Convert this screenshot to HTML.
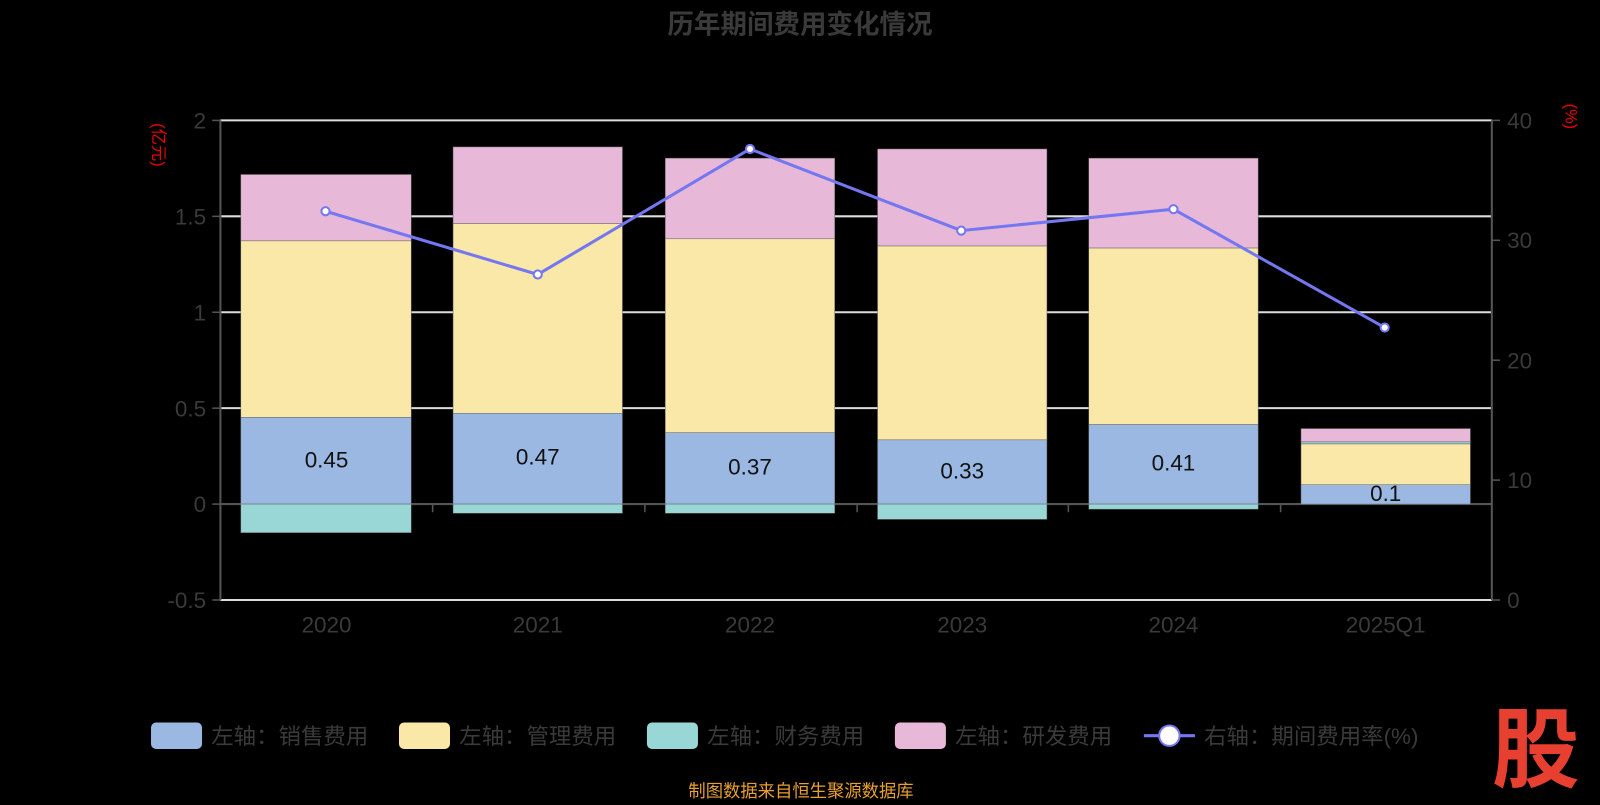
<!DOCTYPE html>
<html><head><meta charset="utf-8"><style>
body{margin:0;background:#000;}
text{font-family:"Liberation Sans","Noto Sans CJK SC",sans-serif;}
</style></head><body>
<svg width="1600" height="800" xmlns="http://www.w3.org/2000/svg">
<rect width="1600" height="800" fill="#000"/>
<g transform="scale(1.0204)">
<text x="784" y="33" text-anchor="middle" font-size="26" font-weight="bold" fill="#3a3a3a">历年期间费用变化情况</text>
<g stroke="#ddd" stroke-width="2">
<line x1="216" y1="118" x2="1462" y2="118"/><line x1="216" y1="212" x2="1462" y2="212"/>
<line x1="216" y1="306" x2="1462" y2="306"/><line x1="216" y1="400" x2="1462" y2="400"/>
<line x1="216" y1="588" x2="1462" y2="588"/>
</g>
<g stroke="#555" stroke-width="2">
<line x1="216" y1="118" x2="216" y2="588"/><line x1="1462" y1="118" x2="1462" y2="588"/>
<line x1="216" y1="494" x2="1462" y2="494"/>
</g>
<g stroke="#555" stroke-width="1.5">
<line x1="208" y1="118" x2="216" y2="118"/><line x1="208" y1="212" x2="216" y2="212"/><line x1="208" y1="306" x2="216" y2="306"/><line x1="208" y1="400" x2="216" y2="400"/><line x1="208" y1="494" x2="216" y2="494"/><line x1="208" y1="588" x2="216" y2="588"/>
<line x1="1462" y1="118" x2="1470" y2="118"/><line x1="1462" y1="235.5" x2="1470" y2="235.5"/><line x1="1462" y1="353" x2="1470" y2="353"/><line x1="1462" y1="470.5" x2="1470" y2="470.5"/><line x1="1462" y1="588" x2="1470" y2="588"/>
<line x1="424" y1="494" x2="424" y2="502"/><line x1="632" y1="494" x2="632" y2="502"/><line x1="840" y1="494" x2="840" y2="502"/><line x1="1047" y1="494" x2="1047" y2="502"/><line x1="1255" y1="494" x2="1255" y2="502"/>
</g>
<g font-size="22" fill="#3a3a3a" text-anchor="end">
<text x="202" y="126">2</text><text x="202" y="220">1.5</text><text x="202" y="314">1</text><text x="202" y="408">0.5</text><text x="202" y="502">0</text><text x="202" y="596">-0.5</text>
</g>
<g font-size="22" fill="#3a3a3a">
<text x="1477" y="126">40</text><text x="1477" y="243">30</text><text x="1477" y="361">20</text><text x="1477" y="478">10</text><text x="1477" y="596">0</text>
</g>
<g font-size="22" fill="#3a3a3a" text-anchor="middle">
<text x="320" y="620">2020</text><text x="527" y="620">2021</text><text x="735" y="620">2022</text><text x="943" y="620">2023</text><text x="1150" y="620">2024</text><text x="1358" y="620">2025Q1</text>
</g>
<text transform="translate(150,142) rotate(90)" text-anchor="middle" font-size="16" fill="#e00">(亿元)</text>
<text transform="translate(1534,114) rotate(90)" text-anchor="middle" font-size="16" fill="#e00">(%)</text>
<g stroke="#666" stroke-width="0.5">
<rect x="236" y="409" width="167" height="85" fill="#9bb8e3"/><rect x="236" y="236" width="167" height="173" fill="#f9e8a8"/><rect x="236" y="494" width="167" height="28" fill="#99d6d6"/><rect x="236" y="171" width="167" height="65" fill="#e8b8d9"/>
<rect x="444" y="405" width="166" height="89" fill="#9bb8e3"/><rect x="444" y="219" width="166" height="186" fill="#f9e8a8"/><rect x="444" y="494" width="166" height="9" fill="#99d6d6"/><rect x="444" y="144" width="166" height="75" fill="#e8b8d9"/>
<rect x="652" y="424" width="166" height="70" fill="#9bb8e3"/><rect x="652" y="234" width="166" height="190" fill="#f9e8a8"/><rect x="652" y="494" width="166" height="9" fill="#99d6d6"/><rect x="652" y="155" width="166" height="79" fill="#e8b8d9"/>
<rect x="860" y="431" width="166" height="63" fill="#9bb8e3"/><rect x="860" y="241" width="166" height="190" fill="#f9e8a8"/><rect x="860" y="494" width="166" height="15" fill="#99d6d6"/><rect x="860" y="146" width="166" height="95" fill="#e8b8d9"/>
<rect x="1067" y="416" width="166" height="78" fill="#9bb8e3"/><rect x="1067" y="243" width="166" height="173" fill="#f9e8a8"/><rect x="1067" y="494" width="166" height="5" fill="#99d6d6"/><rect x="1067" y="155" width="166" height="88" fill="#e8b8d9"/>
<rect x="1275" y="475" width="166" height="19" fill="#9bb8e3"/><rect x="1275" y="435" width="166" height="40" fill="#f9e8a8"/><rect x="1275" y="433" width="166" height="2" fill="#99d6d6"/><rect x="1275" y="420" width="166" height="13" fill="#e8b8d9"/>
</g>
<g font-size="22" fill="#111" text-anchor="middle">
<text x="320" y="458">0.45</text><text x="527" y="455">0.47</text><text x="735" y="465">0.37</text><text x="943" y="469">0.33</text><text x="1150" y="461">0.41</text><text x="1358" y="491">0.1</text>
</g>
<polyline points="319,207 527,269 735,146 942,226 1150,205 1357,321" fill="none" stroke="#7477f0" stroke-width="3"/>
<g fill="#fff" stroke="#7477f0" stroke-width="2">
<circle cx="319" cy="207" r="4"/><circle cx="527" cy="269" r="4"/><circle cx="735" cy="146" r="4"/><circle cx="942" cy="226" r="4"/><circle cx="1150" cy="205" r="4"/><circle cx="1357" cy="321" r="4"/>
</g>
<g font-size="22" fill="#3a3a3a">
<rect x="148" y="708" width="50" height="26" rx="5" fill="#9bb8e3"/><text x="207" y="729">左轴：销售费用</text>
<rect x="391" y="708" width="50" height="26" rx="5" fill="#f9e8a8"/><text x="450" y="729">左轴：管理费用</text>
<rect x="634" y="708" width="50" height="26" rx="5" fill="#99d6d6"/><text x="693" y="729">左轴：财务费用</text>
<rect x="877" y="708" width="50" height="26" rx="5" fill="#e8b8d9"/><text x="936" y="729">左轴：研发费用</text>
<line x1="1121" y1="721" x2="1171" y2="721" stroke="#7477f0" stroke-width="3"/><circle cx="1146" cy="721" r="10" fill="#fff" stroke="#7477f0" stroke-width="2"/>
<text x="1180" y="729">右轴：期间费用率(%)</text>
</g>
<text x="785" y="781" text-anchor="middle" font-size="17" fill="#e8a030">制图数据来自恒生聚源数据库</text>
<text x="1505" y="765" text-anchor="middle" font-size="86" font-weight="bold" fill="#e84030" font-family="'Noto Sans CJK SC',sans-serif">股</text>
</g>
</svg>
</body></html>
